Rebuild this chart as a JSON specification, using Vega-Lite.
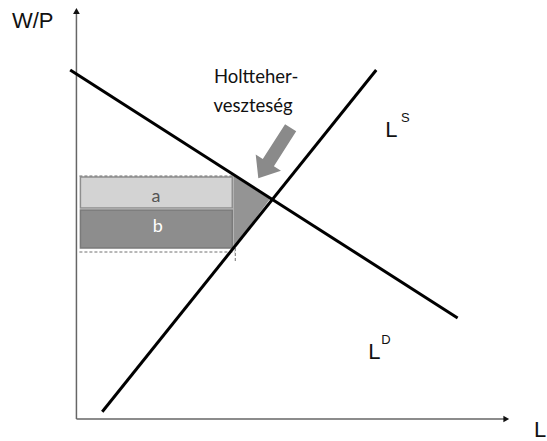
{
  "$schema": "https://vega.github.io/schema/vega-lite/v6.json",
  "width": 547,
  "height": 441,
  "padding": 0,
  "autosize": {"type": "fit", "contains": "padding"},
  "background": "white",
  "config": {"view": {"stroke": null}},
  "datasets": {
    "axes": [
      {"x": 0, "y": 0, "x2": 431, "y2": 0},
      {"x": 0, "y": 0, "x2": 0, "y2": 406}
    ],
    "guides": [
      {"x": 3, "y": 243, "x2": 158, "y2": 243},
      {"x": 3, "y": 167, "x2": 160, "y2": 167},
      {"x": 160, "y": 171, "x2": 160, "y2": 157}
    ],
    "rects": [
      {"name": "a", "x": 4, "x2": 157, "y": 211, "y2": 242},
      {"name": "b", "x": 4, "x2": 157, "y": 171, "y2": 209}
    ],
    "dwl": [
      {"x": 158, "y": 243, "y2": 171},
      {"x": 195, "y": 220, "y2": 220}
    ],
    "curves": [
      {"name": "LD", "x": -6.3, "y": 349, "x2": 384, "y2": 101},
      {"name": "LS", "x": 26, "y": 7.3, "x2": 302, "y2": 349}
    ],
    "arrow": [{"x": 199.5, "y": 266}],
    "heads": [
      {"dir": "up", "x": 0, "y": 408},
      {"dir": "right", "x": 433, "y": 0}
    ],
    "bigLabels": [
      {"t": "W/P", "x": -65, "y": 391},
      {"t": "L", "x": 311, "y": 282},
      {"t": "L", "x": 294, "y": 60},
      {"t": "L", "x": 461, "y": -18}
    ],
    "supLabels": [
      {"t": "S", "x": 327, "y": 297},
      {"t": "D", "x": 307, "y": 75}
    ],
    "note": [
      {"t": "Holtteher-", "x": 181, "y": 336},
      {"t": "veszteség", "x": 178, "y": 307}
    ],
    "areaLabels": [
      {"t": "a", "x": 80, "y": 217},
      {"t": "b", "x": 82, "y": 187}
    ]
  },
  "encoding": {
    "x": {"field": "x", "type": "quantitative", "scale": {"domain": [-77, 470], "nice": false, "zero": false}, "axis": null},
    "y": {"field": "y", "type": "quantitative", "scale": {"domain": [-22, 419], "nice": false, "zero": false}, "axis": null}
  },
  "layer": [
    {
      "data": {"name": "rects"},
      "mark": {"type": "rect", "strokeWidth": 1.5},
      "encoding": {
        "x2": {"field": "x2"},
        "y2": {"field": "y2"},
        "fill": {"field": "name", "type": "nominal", "scale": {"domain": ["a", "b"], "range": ["#d3d3d3", "#8d8d8d"]}, "legend": null},
        "stroke": {"field": "name", "type": "nominal", "scale": {"domain": ["a", "b"], "range": ["#8e8e8e", "#7a7a7a"]}, "legend": null}
      }
    },
    {
      "data": {"name": "dwl"},
      "mark": {"type": "area", "color": "#949494"},
      "encoding": {"y2": {"field": "y2"}}
    },
    {
      "data": {"name": "guides"},
      "mark": {"type": "rule", "color": "#707070", "strokeWidth": 1, "strokeDash": [3, 2]},
      "encoding": {"x2": {"field": "x2"}, "y2": {"field": "y2"}}
    },
    {
      "data": {"name": "axes"},
      "mark": {"type": "rule", "color": "#666666", "strokeWidth": 1.5},
      "encoding": {"x2": {"field": "x2"}, "y2": {"field": "y2"}}
    },
    {
      "data": {"name": "heads"},
      "mark": {"type": "point", "filled": true, "opacity": 1, "color": "#111111", "size": 45},
      "encoding": {
        "shape": {"field": "dir", "type": "nominal", "scale": {"domain": ["up", "right"], "range": ["triangle-up", "triangle-right"]}, "legend": null}
      }
    },
    {
      "data": {"name": "curves"},
      "mark": {"type": "rule", "color": "#000000", "strokeWidth": 3},
      "encoding": {"x2": {"field": "x2"}, "y2": {"field": "y2"}}
    },
    {
      "data": {"name": "arrow"},
      "mark": {
        "type": "point",
        "filled": true,
        "opacity": 1,
        "color": "#8a8a8a",
        "size": 3600,
        "angle": 122.6,
        "shape": "M-1,-0.22L0.38,-0.22L0.38,-0.5L1,0L0.38,0.5L0.38,0.22L-1,0.22Z"
      }
    },
    {
      "data": {"name": "bigLabels"},
      "mark": {"type": "text", "align": "left", "baseline": "alphabetic", "font": "Liberation Sans", "fontSize": 22, "color": "#111111"},
      "encoding": {"text": {"field": "t"}}
    },
    {
      "data": {"name": "supLabels"},
      "mark": {"type": "text", "align": "left", "baseline": "alphabetic", "font": "Liberation Sans", "fontSize": 13, "color": "#111111"},
      "encoding": {"text": {"field": "t"}}
    },
    {
      "data": {"name": "note"},
      "mark": {"type": "text", "align": "center", "baseline": "alphabetic", "font": "Lato", "fontSize": 18.5, "color": "#111111"},
      "encoding": {"text": {"field": "t"}}
    },
    {
      "data": {"name": "areaLabels"},
      "mark": {"type": "text", "align": "center", "baseline": "alphabetic", "font": "Lato", "fontSize": 18},
      "encoding": {
        "text": {"field": "t"},
        "color": {"field": "t", "type": "nominal", "scale": {"domain": ["a", "b"], "range": ["#555555", "#ffffff"]}, "legend": null}
      }
    }
  ]
}
